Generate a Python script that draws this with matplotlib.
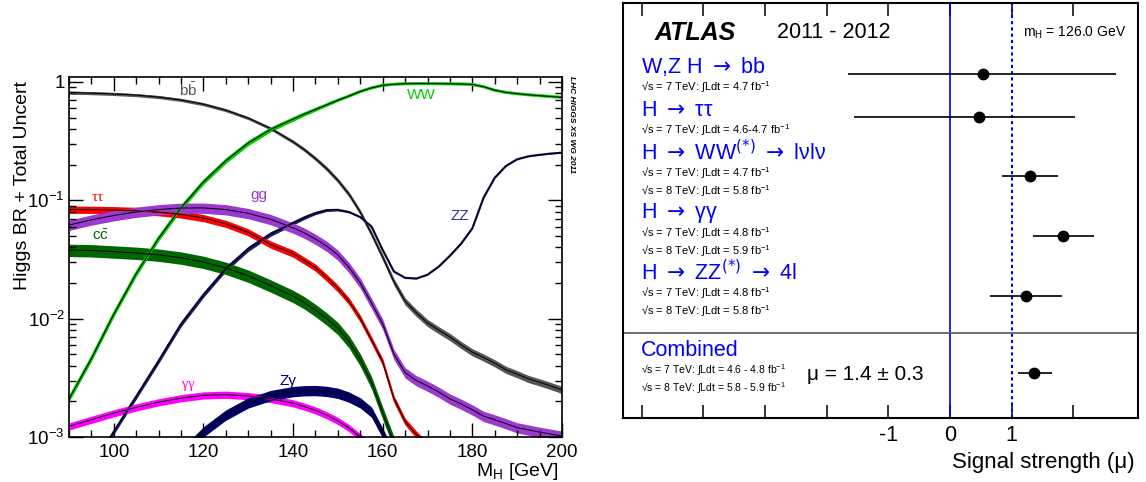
import matplotlib
matplotlib.use("Agg")
import matplotlib.pyplot as plt
import numpy as np

plt.rcParams["font.family"] = ["Liberation Sans", "DejaVu Sans"]
plt.rcParams["mathtext.fontset"] = "custom"
plt.rcParams["mathtext.rm"] = "Liberation Sans"
plt.rcParams["mathtext.it"] = "Liberation Sans:italic"
plt.rcParams["mathtext.bf"] = "Liberation Sans:bold"

# Higgs branching ratios (left panel), 5 GeV steps up to 140, then 2.5 GeV
mass = [90, 95, 100, 105, 110, 115, 120, 125, 130, 135,
        140, 142.5, 145, 147.5, 150, 152.5, 155, 157.5, 160, 162.5,
        165, 167.5, 170, 172.5, 175, 177.5, 180, 182.5, 185, 187.5,
        190, 192.5, 195, 197.5, 200]
br_bb = [0.812, 0.804, 0.791, 0.773, 0.745, 0.704, 0.648, 0.577, 0.494, 0.404,
         0.312, 0.268, 0.225, 0.185, 0.147, 0.112, 0.0792, 0.052, 0.033, 0.0205,
         0.0140, 0.0112, 0.0092, 0.0080, 0.0070, 0.0060, 0.0052, 0.0047, 0.0042,
         0.0037, 0.0034, 0.0031, 0.0029, 0.0027, 0.0025]
br_ww = [0.00209, 0.0046, 0.0109, 0.0240, 0.0477, 0.0865, 0.143, 0.216, 0.305,
         0.397, 0.485, 0.535, 0.585, 0.640, 0.700, 0.760, 0.830, 0.890, 0.935,
         0.955, 0.965, 0.968, 0.968, 0.966, 0.963, 0.960, 0.952, 0.910, 0.850,
         0.815, 0.795, 0.778, 0.765, 0.752, 0.741]
br_zz = [0.00025, 0.00055, 0.00111, 0.0022, 0.0044, 0.0090, 0.0159, 0.0264,
         0.0389, 0.0520, 0.0643, 0.0715, 0.0780, 0.0825, 0.0830, 0.0795, 0.0720,
         0.0600, 0.0380, 0.0250, 0.0221, 0.0218, 0.0235, 0.0275, 0.0340, 0.0430,
         0.0580, 0.105, 0.155, 0.195, 0.222, 0.235, 0.242, 0.248, 0.252]
br_tautau = [0.0834, 0.0833, 0.0827, 0.0815, 0.0794, 0.0760, 0.0708, 0.0633,
             0.0537, 0.0423, 0.0355, 0.0310, 0.0270, 0.0222, 0.0180, 0.0140,
             0.0100, 0.0066, 0.0043, 0.0021, 0.00135, 0.00105, 0.00085,
             0.00075, 0.00068, 0.00062, 0.00056, 0.00051, 0.00046, 0.00042,
             0.00038, 0.00035, 0.00033, 0.00031, 0.00029]
br_gg = [0.0617, 0.0684, 0.0744, 0.0796, 0.0835, 0.0860, 0.0862, 0.0835, 0.0775,
         0.0690, 0.0585, 0.0530, 0.0470, 0.0410, 0.0345, 0.0270, 0.0200, 0.0135,
         0.0090, 0.0050, 0.0035, 0.0030, 0.0027, 0.0024, 0.0021, 0.0019, 0.0017,
         0.0015, 0.0014, 0.0013, 0.0012, 0.00115, 0.00110, 0.00106, 0.00102]
br_cc = [0.0380, 0.0377, 0.0368, 0.0359, 0.0346, 0.0327, 0.0301, 0.0268, 0.0230,
         0.0190, 0.0155, 0.0137, 0.0118, 0.0100, 0.0083, 0.0064, 0.0045, 0.0029,
         0.0016, 0.0009, 0.00062, 0.0005, 0.00043, 0.00038, 0.00032, 0.00028,
         0.00024, 0.00022, 0.0002, 0.00018, 0.00016, 0.00015, 0.00014, 0.00013,
         0.00012]
br_gamgam = [0.00123, 0.00140, 0.00159, 0.00178, 0.00197, 0.00213, 0.00225,
             0.00228, 0.00222, 0.00210, 0.00193, 0.00181, 0.00168, 0.00153,
             0.00137, 0.00119, 0.00100, 0.00079, 0.00055, 0.00038, 0.00029,
             0.00024, 0.00020, 0.00018, 0.00016, 0.00014, 0.00013, 0.00012,
             0.00011, 0.00010, 0.0001, 0.00009, 0.00009, 0.00008, 0.00008]
br_zgam = [0.00003, 0.00006, 0.00011, 0.00023, 0.00040, 0.00072, 0.00111,
           0.00154, 0.00195, 0.00225, 0.00243, 0.00247, 0.00248, 0.00244,
           0.00235, 0.00218, 0.00195, 0.00163, 0.00108, 0.00070, 0.00052,
           0.00043, 0.00037, 0.00033, 0.00030, 0.00027, 0.00025, 0.00022,
           0.00020, 0.00019, 0.00018, 0.00017, 0.00016, 0.00015, 0.00015]

# relative uncertainties (band half-widths)
unc_bb = ([0.03] * 10
          + [0.035, 0.037, 0.04, 0.042, 0.045, 0.05, 0.05, 0.055, 0.06, 0.065]
          + [0.07] * 15)
unc_vv = ([0.05] * 9 + [0.045, 0.04]
          + [0.035, 0.03, 0.025, 0.02, 0.015, 0.01, 0.007]
          + [0.005] * 17)
unc_tautau = 0.07
unc_gg = 0.10
unc_cc = 0.12
unc_gamgam = 0.07
unc_zgam = 0.10

# signal strength (right panel)
channels = [r"W,Z H $\rightarrow$ bb", r"H $\rightarrow$ ττ",
            r"H $\rightarrow$ WW$^{(*)}$ $\rightarrow$ lνlν", r"H $\rightarrow$ γγ",
            r"H $\rightarrow$ ZZ$^{(*)}$ $\rightarrow$ 4l"]
lumi_text = [
    ["√s = 7 TeV: ∫Ldt = 4.7 fb$^{-1}$"],
    ["√s = 7 TeV: ∫Ldt = 4.6-4.7 fb$^{-1}$"],
    ["√s = 7 TeV: ∫Ldt = 4.7 fb$^{-1}$", "√s = 8 TeV: ∫Ldt = 5.8 fb$^{-1}$"],
    ["√s = 7 TeV: ∫Ldt = 4.8 fb$^{-1}$", "√s = 8 TeV: ∫Ldt = 5.9 fb$^{-1}$"],
    ["√s = 7 TeV: ∫Ldt = 4.8 fb$^{-1}$", "√s = 8 TeV: ∫Ldt = 5.8 fb$^{-1}$"],
]
mu = [0.53, 0.47, 1.30, 1.84, 1.24]
mu_lo = [-1.65, -1.55, 0.85, 1.34, 0.65]
mu_hi = [2.69, 2.03, 1.76, 2.34, 1.82]
comb_lumi = ["√s = 7 TeV: ∫Ldt = 4.6 - 4.8 fb$^{-1}$",
             "√s = 8 TeV: ∫Ldt = 5.8 - 5.9 fb$^{-1}$"]
comb_mu = 1.37
comb_lo = 1.11
comb_hi = 1.65
mu_ticks = [-5, -4, -3, -2, -1, 0, 1, 2]
mu_tick_labels = ["", "", "", "", "-1", "0", "1", ""]


def band(ax, m, br, unc, color, lw_col=1.4):
    br = np.asarray(br)
    unc = np.asarray(unc)
    ax.fill_between(m, br * (1 - unc), br * (1 + unc), color=color, lw=0)
    ax.plot(m, br, color=color, lw=lw_col)
    ax.plot(m, br, color="black", lw=0.7)


fig = plt.figure(figsize=(11.46, 4.82), dpi=100)

# ---------------- left panel ----------------
ax = fig.add_axes([69 / 1146, 45 / 482, 493 / 1146, 360 / 482])
ax.set_yscale("log")
band(ax, mass, br_bb, unc_bb, "#555555")
band(ax, mass, br_ww, unc_vv, "#00cc00", lw_col=2.2)
band(ax, mass, br_zz, unc_vv, "#1a1a66", lw_col=1.6)
band(ax, mass, br_tautau, unc_tautau, "#ff0000")
band(ax, mass, br_gg, unc_gg, "#9a3ad0")
band(ax, mass, br_cc, unc_cc, "#006600")
band(ax, mass, br_gamgam, unc_gamgam, "#ff00ff")
band(ax, mass, br_zgam, unc_zgam, "#000066")

ax.set_xlim(90, 200)
ax.set_ylim(1e-3, 1.1)
ax.set_xticks([100, 120, 140, 160, 180, 200])
ax.set_xticks(np.arange(90, 201, 5), minor=True)
ax.set_yticks([1e-3, 1e-2, 1e-1, 1],
              labels=["$10^{-3}$", "$10^{-2}$", "$10^{-1}$", "1"])
ax.yaxis.set_minor_formatter(plt.NullFormatter())
ax.tick_params(which="both", direction="in", top=True, right=True,
               labelsize=13.5, width=1)
ax.tick_params(which="major", length=10)
ax.tick_params(which="minor", length=5)
ax.tick_params(axis="x", pad=5)
ax.tick_params(axis="y", pad=3)
for s in ax.spines.values():
    s.set_linewidth(1.2)

ax.set_ylabel("Higgs BR + Total Uncert", fontsize=14, loc="top")
ax.yaxis.set_label_coords(-0.077, 0.99)
ax.set_xlabel("M$_\\mathrm{H}$ [GeV]", fontsize=14, loc="right")
ax.xaxis.set_label_coords(0.993, -0.066)

lab = dict(ha="center", va="center", fontsize=11)
ax.text(116.6, 0.85, r"$\mathrm{b\bar{b}}$", color="#555555", **lab)
ax.text(168.5, 0.77, "WW", color="#00cc00", **lab)
ax.text(96.5, 0.106, "ττ", color="#ff0000", family="Liberation Serif", **lab)
ax.text(132.3, 0.11, "gg", color="#9a3ad0", **lab)
ax.text(96.9, 0.0507, r"$\mathrm{c\bar{c}}$", color="#006600", **lab)
ax.text(177.2, 0.073, "ZZ", color="#333399", **lab)
ax.text(116.6, 0.00275, "γγ", color="#ff00ff", family="Liberation Serif",
        ha="center", va="center", fontsize=10)
ax.text(138.8, 0.0030, "Zγ", color="#000066", **lab)
fig.text(571 / 1146, 1 - 125 / 482, "LHC HIGGS XS WG 2011", rotation=270,
         ha="center", va="center", fontsize=6, weight="bold", style="italic")

# ---------------- right panel ----------------
ax2 = fig.add_axes([623 / 1146, 64 / 482, 515 / 1146, 415 / 482])
ax2.set_xlim(-5.3, 3.05)
ax2.set_ylim(415, 0)
ax2.axvline(0, color="#0000ee", lw=1.2)
ax2.axvline(1, color="#0000ee", lw=1.5, dashes=(1.5, 1.5))

tr = ax2.get_yaxis_transform()
head_y = 64
for name, lines, m, lo, hi in zip(channels, lumi_text, mu, mu_lo, mu_hi):
    n = len(lines)
    ax2.text(0.035, head_y, name, transform=tr, color="#0000ff",
             fontsize=15.5, ha="left", va="center",
             math_fontfamily="dejavusans")
    for i, t in enumerate(lines):
        ax2.text(0.035, head_y + 20 + 18 * i, t, transform=tr, fontsize=8,
                 ha="left", va="center")
    y_pt = head_y + 7 + 16 * (n - 1)
    ax2.errorbar([m], [y_pt], xerr=[[m - lo], [hi - m]], fmt="o",
                 color="black", ms=7.5, lw=1.2, capsize=0)
    head_y += 26 + 17 * n

sep_y = head_y
ax2.axhline(sep_y, color="#555555", lw=1.2)
head_y = sep_y + 17
ax2.text(0.035, head_y, "Combined", transform=tr, color="#0000ff",
         fontsize=15.5, ha="left", va="center")
for i, t in enumerate(comb_lumi):
    ax2.text(0.035, head_y + 20 + 18 * i, t, transform=tr, fontsize=7.5,
             ha="left", va="center")
ax2.errorbar([comb_mu], [head_y + 23], xerr=[[comb_mu - comb_lo], [comb_hi - comb_mu]],
             fmt="o", color="black", ms=7.5, lw=1.2, capsize=0)
ax2.text(0.357, head_y + 24, "μ = 1.4 ± 0.3", transform=tr, fontsize=15,
         ha="left", va="center")

ax2.text(0.14, 30, "ATLAS", transform=tr, fontsize=18, weight="bold",
         style="italic", ha="center", va="center")
ax2.text(0.299, 30, "2011 - 2012", transform=tr, fontsize=15.5,
         ha="left", va="center")
ax2.text(0.777, 30, "m$_\\mathrm{H}$ = 126.0 GeV", transform=tr, fontsize=10,
         ha="left", va="center")

ax2.set_xticks(mu_ticks, labels=mu_tick_labels)
ax2.set_yticks([])
ax2.tick_params(axis="x", direction="in", top=True, length=9.5, width=1.1,
                labelsize=15.5, pad=5)
for s in ax2.spines.values():
    s.set_linewidth(1.5)
ax2.set_xlabel("Signal strength (μ)", fontsize=16, loc="right")
ax2.xaxis.set_label_coords(0.994, -0.082)

fig.savefig("out.png", dpi=100)
